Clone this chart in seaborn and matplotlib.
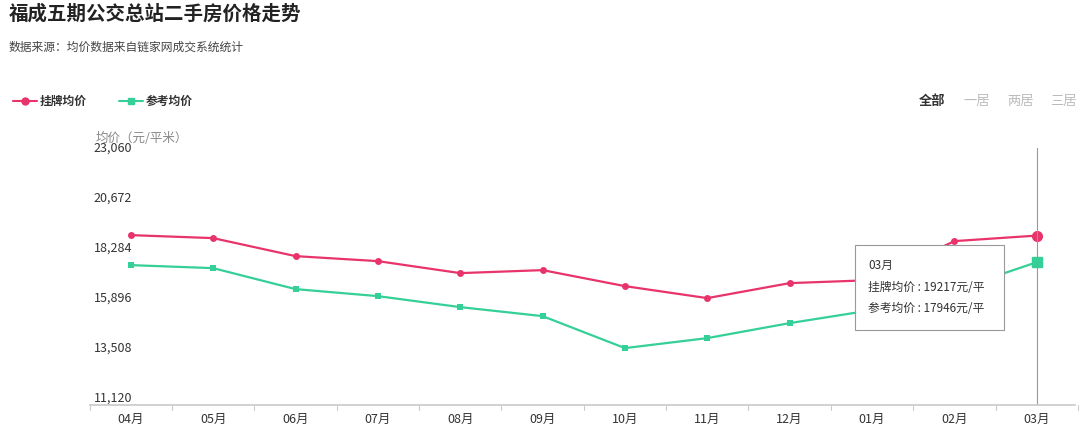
import matplotlib
matplotlib.use("Agg")
import matplotlib.pyplot as plt
import seaborn as sns
import pandas as pd
from matplotlib.patches import Rectangle

months = ["04月","05月","06月","07月","08月","09月","10月","11月","12月","01月","02月","03月"]
listing = [19239,19096,18236,17997,17424,17567,16803,16230,16946,17090,18953,19217]
reference = [17806,17662,16660,16325,15800,15370,13842,14320,15036,15657,16612,17946]
yticks = [11120,13508,15896,18284,20672,23060]

sns.set_theme(style="white")
plt.rcParams['font.family'] = ['Noto Sans CJK SC', 'DejaVu Sans']

fig = plt.figure(figsize=(10.8,4.37), dpi=100)
ax = fig.add_axes([0.083,0.073,0.912,0.572])
df = pd.DataFrame({"x":list(range(12)),"listing":listing,"ref":reference})
red="#e8336b"; green="#35cf98"
sns.lineplot(data=df,x="x",y="listing",ax=ax,color=red,marker="o",markersize=5,markeredgewidth=0,lw=1.6)
sns.lineplot(data=df,x="x",y="ref",ax=ax,color=green,marker="s",markersize=5,markeredgewidth=0,lw=1.6)
ax.plot([11],[listing[-1]],"o",color=red,ms=7)
ax.plot([11],[reference[-1]],"s",color=green,ms=7)
ax.axvline(11,color="#999999",lw=0.8,ymax=1.03,clip_on=False)
ax.set_xlim(-0.5,11.46); ax.set_ylim(11120,23060)
ax.set_yticks(yticks); ax.set_yticklabels([f"{v:,}" for v in yticks],fontsize=9,color="#333333")
for lab in ax.get_yticklabels():
    lab.set_horizontalalignment("left")
ax.set_xticks(range(12)); ax.set_xticklabels(months,fontsize=9,color="#333333")
for i in range(13):
    ax.plot([i-0.5,i-0.5],[11120,11120-250],color="#cccccc",lw=0.8,clip_on=False)
ax.tick_params(axis="x",length=0,pad=6)
ax.tick_params(axis="y",length=0,pad=-3)
for lab in ax.get_yticklabels():
    lab.set_verticalalignment("bottom")
for s in ["top","right","left"]: ax.spines[s].set_visible(False)
ax.spines["bottom"].set_color("#cccccc")
ax.set_xlabel(""); ax.set_ylabel("")
ax.text(0.006,1.04,"均价（元/平米）",transform=ax.transAxes,fontsize=9,color="#888888",va="bottom")

fig.text(0.008,0.955,"福成五期公交总站二手房价格走势",fontsize=14,fontweight="bold",color="#222222")
fig.text(0.008,0.885,"数据来源：均价数据来自链家网成交系统统计",fontsize=8.5,color="#444444")
fig.lines.append(plt.Line2D([0.012,0.034],[0.768,0.768],color=red,lw=1.5,transform=fig.transFigure))
fig.lines.append(plt.Line2D([0.023],[0.768],color=red,marker="o",ms=5,transform=fig.transFigure))
fig.text(0.037,0.768,"挂牌均价",fontsize=8.5,fontweight="bold",va="center",color="#333333")
fig.lines.append(plt.Line2D([0.11,0.132],[0.768,0.768],color=green,lw=1.5,transform=fig.transFigure))
fig.lines.append(plt.Line2D([0.121],[0.768],color=green,marker="s",ms=5,transform=fig.transFigure))
fig.text(0.135,0.768,"参考均价",fontsize=8.5,fontweight="bold",va="center",color="#333333")
for x,t,c,w in [(0.851,"全部","#333333","bold"),(0.892,"一居","#bbbbbb","normal"),(0.933,"两居","#bbbbbb","normal"),(0.972,"三居","#bbbbbb","normal")]:
    fig.text(x,0.768,t,fontsize=9.5,va="center",color=c,fontweight=w)
fig.patches.append(Rectangle((0.792,0.245),0.138,0.195,transform=fig.transFigure,facecolor="white",edgecolor="#999999",lw=0.8,zorder=5))
fig.text(0.804,0.385,"03月",fontsize=8.5,color="#333333",zorder=6)
fig.text(0.804,0.335,f"挂牌均价 : {listing[-1]}元/平",fontsize=8.5,color="#333333",zorder=6)
fig.text(0.804,0.285,f"参考均价 : {reference[-1]}元/平",fontsize=8.5,color="#333333",zorder=6)
fig.savefig("out.png",dpi=100)
